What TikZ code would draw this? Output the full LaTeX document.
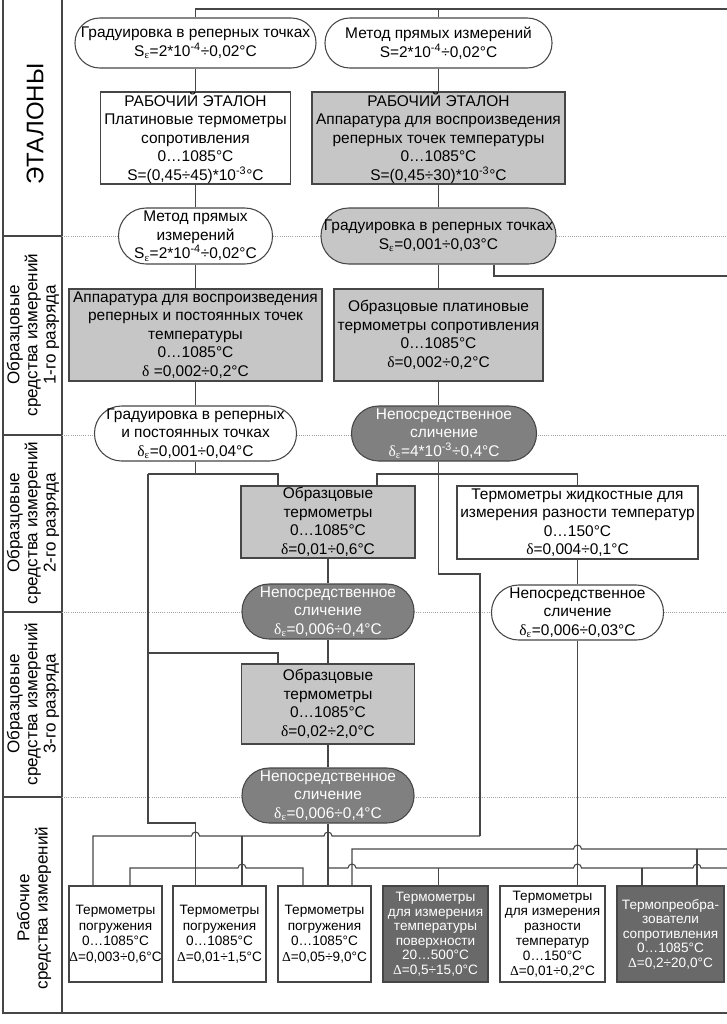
\documentclass[tikz,border=0pt]{standalone}
\usepackage{fontspec}
\setmainfont{Liberation Sans}
\newfontfamily\symbfont{Liberation Serif}
\newcommand{\gsym}[1]{{\symbfont #1}}
\newcommand{\Seps}{S\textsubscript{\gsym{ε}}}
\newcommand{\deps}{\gsym{δ}\textsubscript{\gsym{ε}}}
\definecolor{linec}{RGB}{70,70,70}
\definecolor{lightfill}{RGB}{198,198,198}
\definecolor{midfill}{RGB}{128,128,128}
\definecolor{darkfill}{RGB}{105,105,105}

\begin{document}
\begin{tikzpicture}[x=0.75pt, y=-0.75pt,
  link/.style={draw=linec, line width=0.8pt},
  sepline/.style={draw=gray!70, densely dotted, line width=0.6pt},
  rect/.style 2 args={draw=linec, line width=0.8pt, fill=white, inner sep=0pt, align=center,
    minimum width=#1*0.75pt, minimum height=#2*0.75pt, font=\fontsize{11.6}{13.9}\selectfont},
  oval/.style 2 args={rect={#1}{#2}, rounded corners=#2*0.37pt},
  small/.style 2 args={rect={#1}{#2}, font=\fontsize{10.2}{11.6}\selectfont},
  light/.style={fill=lightfill},
  dark/.style={fill=midfill, text=white},
  darker/.style={fill=darkfill, text=white, font=\fontsize{10.2}{10.9}\selectfont},
  rank/.style={rotate=90, align=center, font=\fontsize{12.8}{13.6}\selectfont}]
\useasboundingbox (0,0) rectangle (727,1024);

\draw[line width=2pt, draw=linec] (3,0) -- (3,1013) -- (727,1013);
\draw[link] (62,0) -- (62,1013);
\foreach \y in {236,435,612,797} {
  \draw[link] (3,\y) -- (62,\y);
  \draw[sepline] (62,\y) -- (727,\y);
}

\node[rotate=90, font=\fontsize{18}{20}\selectfont] (lbl0) at (35,124) {ЭТАЛОНЫ};
\node[rank] (lbl1) at (33,335) {Образцовые\\ средства измерений\\ 1-го разряда};
\node[rank] (lbl2) at (33,523) {Образцовые\\ средства измерений\\ 2-го разряда};
\node[rank] (lbl3) at (33,704) {Образцовые\\ средства измерений\\ 3-го разряда};
\node[rank] (lbl4) at (34,908) {Рабочие\\ средства измерений};

\node[oval={241}{50}] (grad1) at (195.5,43) {Градуировка в реперных точках\\ \Seps=2*10\textsuperscript{-4}÷0,02°C};
\node[oval={227}{50}] (direct1) at (438.5,43) {Метод прямых измерений\\ S=2*10\textsuperscript{-4}÷0,02°C};
\node[rect={190}{92}] (wstd1) at (195.5,138) {РАБОЧИЙ ЭТАЛОН\\ Платиновые термометры\\ сопротивления\\ 0…1085°C\\ S=(0,45÷45)*10\textsuperscript{-3}°C};
\node[rect={253}{92}, light] (wstd2) at (438.5,138) {РАБОЧИЙ ЭТАЛОН\\ Аппаратура для воспроизведения\\ реперных точек температуры\\ 0…1085°C\\ S=(0,45÷30)*10\textsuperscript{-3}°C};

\node[oval={154}{56}] (direct2) at (195.5,236) {Метод прямых\\ измерений\\ \Seps=2*10\textsuperscript{-4}÷0,02°C};
\node[oval={235}{56}, light] (grad2) at (438.5,236) {Градуировка в реперных точках\\ \Seps=0,001÷0,03°C};
\node[rect={253}{92}, light] (app1) at (195.5,335) {Аппаратура для воспроизведения\\ реперных и постоянных точек\\ температуры\\ 0…1085°C\\ \gsym{δ} =0,002÷0,2°C};
\node[rect={209}{92}, light] (ptres) at (438.5,335) {Образцовые платиновые\\ термометры сопротивления\\ 0…1085°C\\ \gsym{δ}=0,002÷0,2°C};

\node[oval={202}{55}] (grad3) at (195.5,433.5) {Градуировка в реперных\\ и постоянных точках\\ \deps=0,001÷0,04°C};
\node[oval={185}{55}, dark] (cmp1) at (444,433.5) {Непосредственное\\ сличение\\ \deps=4*10\textsuperscript{-3}÷0,4°C};

\node[rect={174}{72}, light] (ref2) at (328,522) {Образцовые\\ термометры\\ 0…1085°C\\ \gsym{δ}=0,01÷0,6°C};
\node[rect={241}{73}] (liq) at (577.5,522.5) {Термометры жидкостные для\\ измерения разности температур\\ 0…150°C\\ \gsym{δ}=0,004÷0,1°C};
\node[oval={172}{55}, dark] (cmp2) at (328,611.5) {Непосредственное\\ сличение\\ \deps=0,006÷0,4°C};
\node[oval={172}{55}] (cmp3) at (577.5,612.5) {Непосредственное\\ сличение\\ \deps=0,006÷0,03°C};
\node[rect={173}{80}, light] (ref3) at (328,704) {Образцовые\\ термометры\\ 0…1085°C\\ \gsym{δ}=0,02÷2,0°C};
\node[oval={172}{55}, dark] (cmp4) at (328,795.5) {Непосредственное\\ сличение\\ \deps=0,006÷0,4°C};

\node[small={93}{96}] (imm1) at (115.5,934) {Термометры\\ погружения\\ 0…1085°C\\ \gsym{Δ}=0,003÷0,6°C};
\node[small={93}{96}] (imm2) at (219.5,934) {Термометры\\ погружения\\ 0…1085°C\\ \gsym{Δ}=0,01÷1,5°C};
\node[small={93}{96}] (imm3) at (324.5,934) {Термометры\\ погружения\\ 0…1085°C\\ \gsym{Δ}=0,05÷9,0°C};
\node[small={105}{96}, darker] (surf) at (435.5,934) {Термометры\\ для измерения\\ температуры\\ поверхности\\ 20…500°C\\ \gsym{Δ}=0,5÷15,0°C};
\node[small={105}{96}, font=\fontsize{10.2}{11.2}\selectfont] (diff) at (552.5,934) {Термометры\\ для измерения\\ разности\\ температур\\ 0…150°C\\ \gsym{Δ}=0,01÷0,2°C};
\node[small={107}{96}, darker] (rtd) at (670.5,934) {Термопреобра-\\ зователи\\ сопротивления\\ 0…1085°C\\ \gsym{Δ}=0,2÷20,0°C};

\coordinate (topl) at (195.5,9);
\coordinate (topr) at (727,9);
\draw[link] (topr) -- (topl) -- (grad1);
\draw[link] (topl -| direct1) -- (direct1);
\draw[link] (grad1) -- (wstd1) -- (direct2) -- (app1) -- (grad3);
\draw[link] (direct1) -- (wstd2) -- (grad2) -- (ptres);
\draw[link] (ptres.south) -- (ptres.south |- cmp1.north);
\coordinate (g2out) at (494,276);
\draw[link] (grad2.south -| g2out) -- (g2out) -- (727,276);

\coordinate (e1j) at (195.5,474);
\coordinate (e1w) at (148,474);
\coordinate (e1e) at (278,474);
\coordinate (e1b) at (148,823);
\draw[link] (grad3) -- (e1j);
\draw[link] (e1w) -- (e1e) -- (e1e |- ref2.north);
\draw[link] (e1w) -- (e1b) -- (195.5,823) -- (195.5,886);
\draw[link] (148,653) -- (278,653) -- (278,664);

\coordinate (e2j) at (438.5,474);
\coordinate (e2w) at (377,474);
\coordinate (e2e) at (577.5,474);
\draw[link] (cmp1.south -| e2j) -- (e2j);
\draw[link] (e2w |- ref2.north) -- (e2w) -- (e2e) -- (liq);
\draw[link] (e2j) -- (438.5,574) -- (480,574) -- (480,836);

\draw[link] (ref2) -- (cmp2) -- (ref3) -- (cmp4);
\draw[link] (liq) -- (cmp3) -- (cmp3 |- diff.north);
\draw[link] (cmp4) -- (cmp4 |- imm3.north);

\draw[link] (93,886) -- (93,836) -- (191.5,836) arc (180:360:4) -- (324,836) arc (180:360:4) -- (480,836);
\draw[link] (242,836) -- (242,886);
\draw[link] (130,886) -- (130,868) -- (238,868) arc (180:360:4) -- (303,868) -- (303,886);
\draw[link] (328,868) -- (348,868) arc (180:360:4) -- (573.5,868) arc (180:360:4) -- (693,868) arc (180:360:4) -- (727,868);
\draw[link] (438.5,868) -- (surf.north -| 438.5,0);
\draw[link] (642,868) -- (642,886);
\draw[link] (352,886) -- (352,849) -- (573.5,849) arc (180:360:4) -- (727,849);
\draw[link] (697,849) -- (697,886);
\end{tikzpicture}
\end{document}
